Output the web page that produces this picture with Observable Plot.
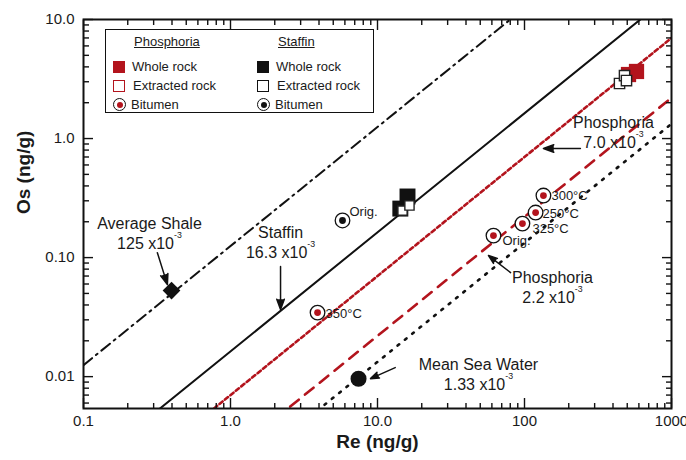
<!DOCTYPE html>
<html><head><meta charset="utf-8">
<script src="https://cdn.jsdelivr.net/npm/d3@7"></script>
<script src="https://cdn.jsdelivr.net/npm/@observablehq/plot@0.6"></script>
<style>
body{margin:0;background:#fff;}
#wrap{position:relative;width:686px;height:460px;font-family:"Liberation Sans",Arial,Helvetica,sans-serif;color:#1a1a1a;}
#wrap svg{display:block;}
.lg{position:absolute;font-size:13px;line-height:16px;white-space:nowrap;}
.box{position:absolute;box-sizing:border-box;}
</style></head><body><div id="wrap"></div><script>
// ---------- data ----------
const RED = "#b3141d";
// reference Re/Os lines (Os = ratio * Re)
const lineNames = ["Average Shale", "Staffin", "Phosphoria", "Phosphoria", "Mean Sea Water"];
const lineRatios = [125e-3, 16.3e-3, 7.0e-3, 2.2e-3, 1.33e-3];
const lineRatioText = ["125 x10^-3", "16.3 x10^-3", "7.0 x10^-3", "2.2 x10^-3", "1.33 x10^-3"];
// annotation anchors for the line labels (Re, Os)
const lineLabelRe = [0.281, 2.19, 403, 155, 48.6];
const lineLabelOs = [0.162, 0.136, 1.146, 0.057, 0.0106];
// annotation arrows (from -> to)
const arrowRe1 = [0.318, 2.19, 240, 80.4, 13.2];
const arrowOs1 = [0.110, 0.0840, 0.824, 0.0748, 0.0119];
const arrowRe2 = [0.372, 2.19, 134.5, 56.9, 8.96];
const arrowOs2 = [0.0593, 0.0366, 0.824, 0.104, 0.00962];

// Phosphoria samples
const phosWholeRe = [510, 578];
const phosWholeOs = [3.45, 3.66];
const phosExtRe = [443, 479, 494];
const phosExtOs = [2.90, 3.38, 3.07];
const phosBitRe = [61.5, 96.8, 119, 134.5, 3.91];
const phosBitOs = [0.153, 0.193, 0.239, 0.332, 0.0345];
const phosBitLabel = ["Orig.", "325°C", "250°C", "300°C", "350°C"];
// Staffin samples
const staffWholeRe = [14.3, 16.0];
const staffWholeOs = [0.258, 0.326];
const staffExtRe = [14.8, 16.5];
const staffExtOs = [0.248, 0.274];
const staffBitRe = [5.78];
const staffBitOs = [0.205];
const staffBitLabel = ["Orig."];
// single reference points
const shaleRe = [0.397], shaleOs = [0.0528];
const seaRe = [7.43], seaOs = [0.0096];

// axis ticks
const xMajor = [0.1, 1, 10, 100, 1000];
const xTickLabels = ["0.1", "1.0", "10.0", "100", "1000"];
const yMajor = [0.01, 0.1, 1, 10];
const yTickLabels = ["0.01", "0.10", "1.0", "10.0"];

// ---------- build tables ----------
const pts = (re, os, extra = []) => re.map((r, i) => ({Re: r, Os: os[i], label: extra[i]}));
const lineData = lineRatios.map(r => [0.1, 1000].map(re => ({Re: re, Os: r * re})));
const lineStyles = [
  {stroke: "#111", strokeWidth: 2, strokeDasharray: "11,5,2,5"},
  {stroke: "#111", strokeWidth: 2},
  {stroke: RED, strokeWidth: 2.6, strokeDasharray: "4,3"},
  {stroke: RED, strokeWidth: 2.6, strokeDasharray: "11,8"},
  {stroke: "#111", strokeWidth: 2.6, strokeDasharray: "2,7.4"}
];
const labelData = lineNames.map((n, i) => ({Re: lineLabelRe[i], Os: lineLabelOs[i], text: n + "\n" + lineRatioText[i]}));
const arrowData = arrowRe1.map((r, i) => ({x1: r, y1: arrowOs1[i], x2: arrowRe2[i], y2: arrowOs2[i]}));
const xMinor = [0.1, 1, 10, 100].flatMap(m => [2,3,4,5,6,7,8,9].map(k => +(m * k).toPrecision(3)));
const yMinor = [0.001, 0.01, 0.1, 1].flatMap(m => [2,3,4,5,6,7,8,9].map(k => +(m * k).toPrecision(3))).filter(v => v >= 0.0054 && v <= 10);

const bitOffsets = [[9, 5], [10, 5], [7, 1], [8, 0], [8, 1]];
const phosBit = pts(phosBitRe, phosBitOs, phosBitLabel);
const staffBit = pts(staffBitRe, staffBitOs, staffBitLabel);

const noText = () => "";
const tickOnly = (axis, data, anchor, size) => axis(data, {anchor, tickSize: size, tickPadding: 0, tickFormat: noText, label: null, strokeWidth: 1.4, stroke: "#111"});

const font = "Liberation Sans, Arial, Helvetica, sans-serif";
const chart = Plot.plot({
  width: 686, height: 460,
  marginLeft: 83, marginRight: 15, marginTop: 19, marginBottom: 52,
  style: {fontFamily: font, background: "white", color: "#1a1a1a", overflow: "visible"},
  x: {type: "log", domain: [0.1, 1000]},
  y: {type: "log", domain: [0.0054, 10]},
  marks: [
    ...lineData.map((d, i) => Plot.line(d, {x: "Re", y: "Os", clip: true, ...lineStyles[i]})),
    // annotations
    Plot.text(labelData, {x: "Re", y: "Os", text: "text", fontSize: 16, lineHeight: 1.22, fill: "#1a1a1a"}),
    Plot.arrow(arrowData, {x1: "x1", y1: "y1", x2: "x2", y2: "y2", stroke: "#111", fill: "#111", strokeWidth: 1.5, headLength: 11, headAngle: 40}),
    // samples
    Plot.dot(pts(phosWholeRe, phosWholeOs), {x: "Re", y: "Os", symbol: "square", r: 8.6, fill: RED}),
    Plot.dot(pts(phosExtRe, phosExtOs), {x: "Re", y: "Os", symbol: "square", r: 5.8, fill: "white", stroke: "#222", strokeWidth: 1.4}),
    Plot.dot(pts(staffWholeRe, staffWholeOs), {x: "Re", y: "Os", symbol: "square", r: 9, fill: "#111"}),
    Plot.dot(pts(staffExtRe, staffExtOs), {x: "Re", y: "Os", symbol: "square", r: 5.2, fill: "white", stroke: "#222", strokeWidth: 1.4}),
    Plot.dot(phosBit, {x: "Re", y: "Os", r: 7.3, fill: "white", stroke: "#111", strokeWidth: 1.3}),
    Plot.dot(phosBit, {x: "Re", y: "Os", r: 3.4, fill: RED}),
    Plot.dot(staffBit, {x: "Re", y: "Os", r: 7.3, fill: "white", stroke: "#111", strokeWidth: 1.3}),
    Plot.dot(staffBit, {x: "Re", y: "Os", r: 3.4, fill: "#111"}),
    ...phosBit.map((d, i) => Plot.text([d], {x: "Re", y: "Os", text: "label", textAnchor: "start", dx: bitOffsets[i][0], dy: bitOffsets[i][1], fontSize: 13, fill: "#1a1a1a"})),
    Plot.text(staffBit, {x: "Re", y: "Os", text: "label", textAnchor: "start", dx: 7, dy: -9, fontSize: 13, fill: "#1a1a1a"}),
    Plot.dot(pts(shaleRe, shaleOs), {x: "Re", y: "Os", symbol: "diamond2", r: 8, fill: "#111"}),
    Plot.dot(pts(seaRe, seaOs), {x: "Re", y: "Os", r: 8, fill: "#111"}),
    // frame and ticks (inward)
    Plot.frame({stroke: "#111", strokeWidth: 2}),
    tickOnly(Plot.axisX, xMajor, "bottom", -10),
    tickOnly(Plot.axisX, xMinor, "bottom", -5),
    tickOnly(Plot.axisX, xMajor, "top", -10),
    tickOnly(Plot.axisX, xMinor, "top", -5),
    tickOnly(Plot.axisY, yMajor, "left", -10),
    tickOnly(Plot.axisY, yMinor, "left", -6),
    tickOnly(Plot.axisY, yMajor, "right", -10),
    tickOnly(Plot.axisY, yMinor, "right", -6),
    // tick labels
    Plot.axisX(xMajor, {anchor: "bottom", tickSize: 0, tickPadding: 7, fontSize: 15, label: null, tickFormat: d => xTickLabels[xMajor.indexOf(d)]}),
    Plot.axisY(yMajor, {anchor: "left", tickSize: 0, tickPadding: 9, fontSize: 15, label: null, tickFormat: d => yTickLabels[yMajor.indexOf(d)]}),
    Plot.text(["Re (ng/g)"], {frameAnchor: "bottom", dy: 39, fontSize: 19, fontWeight: "bold", fill: "#1a1a1a"}),
    Plot.text(["Os (ng/g)"], {frameAnchor: "left", dx: -60, rotate: -90, fontSize: 19, fontWeight: "bold", fill: "#1a1a1a"})
  ]
});

// superscripts "x10^-3"
chart.querySelectorAll("text, tspan").forEach(el => {
  if (el.children.length === 0 && el.textContent.includes("^")) {
    const [a, b] = el.textContent.split("^");
    el.textContent = a;
    const t = document.createElementNS("http://www.w3.org/2000/svg", "tspan");
    t.setAttribute("font-size", "0.55em");
    t.setAttribute("dy", "-1.2em");
    t.textContent = b;
    el.appendChild(t);
  }
});
// drop empty tick-label texts of the tick-only axes
chart.querySelectorAll("text").forEach(el => { if (el.textContent === "") el.remove(); });

const wrap = document.getElementById("wrap");
wrap.appendChild(chart);

// ---------- legend (HTML overlay) ----------
function add(cls, css, text) {
  const d = document.createElement("div");
  d.className = cls;
  Object.assign(d.style, css);
  if (text) d.textContent = text;
  wrap.appendChild(d);
  return d;
}
add("box", {left: "105px", top: "29px", width: "269px", height: "84px", border: "1px solid #111", background: "white"});
const groups = [
  {name: "Phosphoria", x: 113, tx: 132, hx: 134, color: RED},
  {name: "Staffin", x: 257, tx: 276, hx: 278, color: "#111"}
];
groups.forEach(g => {
  add("lg", {left: g.hx + "px", top: "34px", textDecoration: "underline"}, g.name);
  add("box", {left: g.x + "px", top: "61px", width: "12px", height: "12px", background: g.color});
  add("lg", {left: g.tx + "px", top: "59px"}, "Whole rock");
  add("box", {left: g.x + "px", top: "80px", width: "12px", height: "12px", border: "1px solid " + g.color, background: "white"});
  add("lg", {left: (g.tx + 1) + "px", top: "78px"}, "Extracted rock");
  add("box", {left: (g.x) + "px", top: "98px", width: "13px", height: "13px", border: "1.3px solid #111", borderRadius: "50%", background: "white"});
  add("box", {left: (g.x + 3.5) + "px", top: "101.5px", width: "6px", height: "6px", borderRadius: "50%", background: g.color});
  add("lg", {left: (g.tx - 1) + "px", top: "97px"}, "Bitumen");
});
</script></body></html>
